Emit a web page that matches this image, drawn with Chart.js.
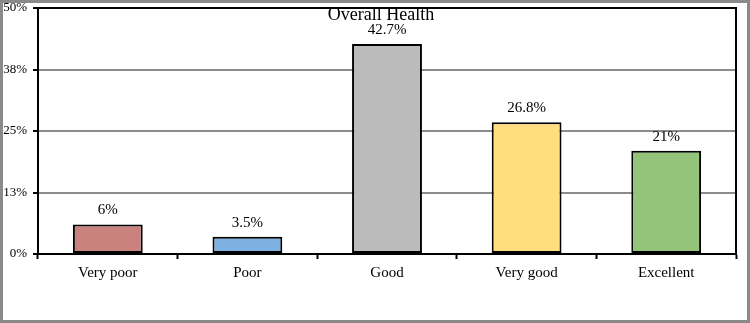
<!DOCTYPE html>
<html>
<head>
<meta charset="utf-8">
<script src="https://cdn.jsdelivr.net/npm/chart.js@4/dist/chart.umd.min.js"></script>
<style>
  html, body { margin: 0; padding: 0; background: #fff; }
  #wrap { width: 750px; height: 323px; position: relative; }
</style>
</head>
<body>
<div id="wrap"><canvas id="c" width="750" height="323"></canvas></div>
<script>
const categories = ["Very poor", "Poor", "Good", "Very good", "Excellent"];
const values = [6, 3.5, 42.7, 26.8, 21];
const barColors = ["#C9827E", "#7DB1E1", "#BBBBBB", "#FFDE80", "#93C47A"];
const chartTitle = "Overall Health";
const yMax = 50;
const yStep = 12.5;

const serif = "'Liberation Serif', 'Times New Roman', serif";

const framePlugin = {
  id: 'frame',
  beforeDraw(chart) {
    const ctx = chart.ctx;
    ctx.save();
    ctx.fillStyle = '#fff';
    ctx.fillRect(0, 0, chart.width, chart.height);
    ctx.restore();
  },
  beforeDatasetsDraw(chart) {
    const ctx = chart.ctx, a = chart.chartArea;
    ctx.save();
    ctx.strokeStyle = '#000';
    ctx.lineWidth = 2;
    ctx.strokeRect(a.left, a.top, a.right - a.left, a.bottom - a.top);
    ctx.restore();
  },
  afterDraw(chart) {
    const ctx = chart.ctx;
    ctx.save();
    // outer gray border
    ctx.strokeStyle = '#8a8a8a';
    ctx.lineWidth = 3;
    ctx.strokeRect(1.5, 1.5, chart.width - 3, chart.height - 3);
    // data labels
    ctx.fillStyle = '#000';
    ctx.font = "15px " + serif;
    ctx.textAlign = 'center';
    ctx.textBaseline = 'alphabetic';
    const meta = chart.getDatasetMeta(0);
    meta.data.forEach((bar, i) => {
      ctx.fillText(values[i] + '%', bar.x, bar.y - 10);
    });
    // title
    ctx.font = "18px " + serif;
    ctx.fillText(chartTitle, 381, 20);
    ctx.restore();
  }
};

new Chart(document.getElementById('c'), {
  type: 'bar',
  data: {
    labels: categories,
    datasets: [{
      data: values,
      backgroundColor: barColors,
      borderColor: '#000',
      borderWidth: 2,
      borderSkipped: false,
      barPercentage: 0.5,
      categoryPercentage: 1.0
    }]
  },
  options: {
    responsive: false,
    animation: false,
    devicePixelRatio: 1,
    layout: { padding: { left: 0, right: 14, top: 8, bottom: 0 } },
    plugins: {
      legend: { display: false },
      title: { display: false },
      tooltip: { enabled: false }
    },
    scales: {
      x: {
        offset: true,
        grid: {
          offset: true,
          drawOnChartArea: false,
          drawTicks: true,
          tickLength: 5,
          tickColor: '#000',
          tickWidth: 2
        },
        border: { color: '#000', width: 2 },
        ticks: {
          color: '#000',
          font: { family: serif, size: 15 },
          padding: 5,
          maxRotation: 0
        },
        afterFit(scale) {
          scale.height = 69;
          scale.paddingLeft = 0;
          scale.paddingRight = 0;
        }
      },
      y: {
        min: 0,
        max: yMax,
        grid: {
          color: '#8c8c8c',
          lineWidth: 2,
          tickColor: '#000',
          tickLength: 5,
          tickWidth: 2
        },
        border: { color: '#000', width: 2 },
        ticks: {
          stepSize: yStep,
          color: '#000',
          font: { family: serif, size: 13 },
          padding: 6,
          callback: v => Math.round(v) + '%'
        },
        afterFit(scale) {
          scale.width = 38;
          scale.paddingTop = 0;
          scale.paddingBottom = 0;
        }
      }
    }
  },
  plugins: [framePlugin]
});
</script>
</body>
</html>
